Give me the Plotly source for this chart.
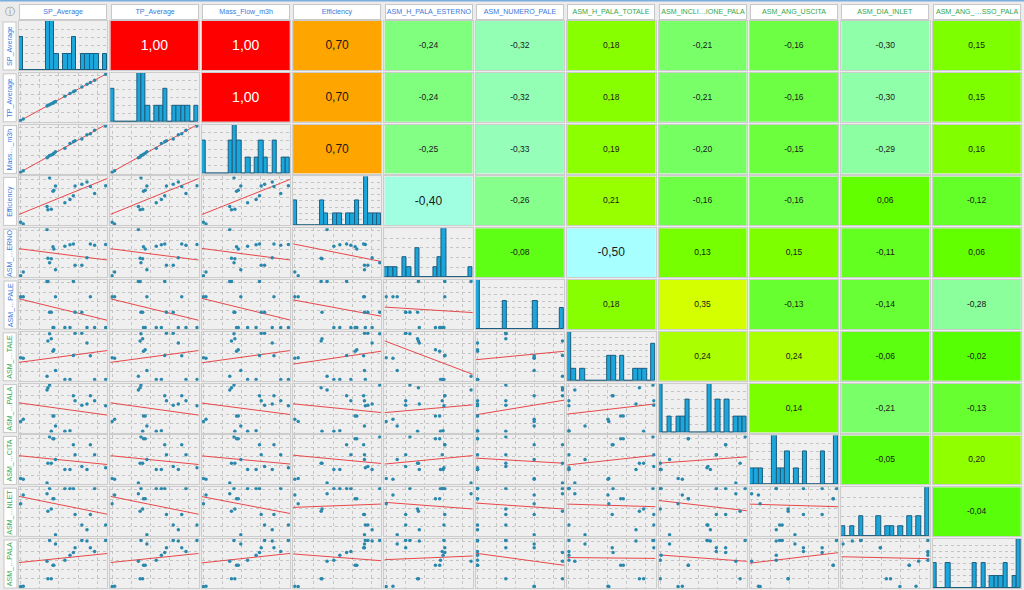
import numpy as np
import plotly.graph_objects as go
from plotly.subplots import make_subplots

# variable names (header row / left column, as shown)
names = ["SP_Average", "TP_Average", "Mass_Flow_m3h", "Efficiency", "ASM_H_PALA_ESTERNO",
         "ASM_NUMERO_PALE", "ASM_H_PALA_TOTALE", "ASM_INCLI…IONE_PALA", "ASM_ANG_USCITA",
         "ASM_DIA_INLET", "ASM_ANG_…SSO_PALA"]
row_names = ["SP_Average", "TP_Average", "Mass…_m3h", "Efficiency", "ASM_…ERNO", "ASM_…PALE",
             "ASM_…TALE", "ASM_…PALA", "ASM_…CITA", "ASM_…NLET", "ASM_…PALA"]
n_outputs = 6  # first six drawn in blue, the rest in green

sp_average = [0.00, 0.03, 0.31, 0.32, 0.34, 0.36, 0.38, 0.39, 0.41, 0.52, 0.58, 0.62, 0.64, 0.72, 0.78, 0.82, 0.87, 1.00]
tp_average = [0.00, 0.03, 0.31, 0.33, 0.34, 0.36, 0.37, 0.39, 0.41, 0.52, 0.58, 0.62, 0.64, 0.72, 0.78, 0.82, 0.87, 1.00]
mass_flow = [0.00, 0.03, 0.31, 0.33, 0.36, 0.37, 0.39, 0.41, 0.44, 0.52, 0.62, 0.66, 0.68, 0.72, 0.81, 0.83, 0.91, 1.00]
efficiency = [0.04, 0.00, 0.38, 0.31, 1.00, 0.32, 0.71, 0.73, 0.82, 0.46, 0.53, 0.61, 0.82, 0.86, 0.91, 0.81, 0.66, 0.83]
h_pala_esterno = [0.00, 0.08, 1.00, 0.38, 0.28, 0.37, 0.63, 0.58, 0.13, 0.64, 0.67, 0.69, 0.23, 0.23, 0.39, 0.69, 0.66, 0.68]
numero_pale = [7, 7, 8, 8, 6, 6, 5, 5, 7, 5, 5, 8, 6, 6, 5, 7, 5, 5]
h_pala_totale = [0.47, 0.46, 0.07, 0.83, 0.99, 0.88, 0.61, 0.64, 0.19, 0.00, 0.00, 0.52, 1.00, 1.00, 0.79, 0.51, 0.00, 0.00]
inclinazione_pala = [0.21, 0.26, 0.89, 0.94, 1.00, 0.00, 0.33, 0.33, 0.11, 0.00, 0.01, 0.77, 0.66, 0.56, 0.59, 0.77, 0.66, 0.55]
ang_uscita = [0.10, 0.08, 0.00, 0.43, 1.00, 0.43, 0.96, 0.96, 0.51, 0.29, 0.29, 0.83, 0.61, 0.36, 0.29, 0.83, 0.61, 0.33]
dia_inlet = [0.67, 0.86, 0.89, 0.51, 1.00, 0.56, 0.78, 0.78, 0.00, 1.00, 1.00, 1.00, 0.44, 0.21, 0.11, 0.44, 1.00, 0.21]
ang_sso_pala = [0.00, 0.01, 0.55, 0.17, 1.00, 0.17, 0.46, 0.46, 0.92, 0.57, 0.68, 0.74, 0.84, 1.00, 0.99, 0.84, 0.76, 1.00]

# correlation values printed in the upper triangle (row by row)
corr_rows = [
    [1.00, 1.00, 0.70, -0.24, -0.32, 0.18, -0.21, -0.16, -0.30, 0.15],
    [1.00, 0.70, -0.24, -0.32, 0.18, -0.21, -0.16, -0.30, 0.15],
    [0.70, -0.25, -0.33, 0.19, -0.20, -0.15, -0.29, 0.16],
    [-0.40, -0.26, 0.21, -0.16, -0.16, 0.06, -0.12],
    [-0.08, -0.50, 0.13, 0.15, -0.11, 0.06],
    [0.18, 0.35, -0.13, -0.14, -0.28],
    [0.24, 0.24, -0.06, -0.02],
    [0.14, -0.21, -0.13],
    [-0.05, 0.20],
    [-0.04],
]

columns = [sp_average, tp_average, mass_flow, efficiency, h_pala_esterno, numero_pale,
           h_pala_totale, inclinazione_pala, ang_uscita, dia_inlet, ang_sso_pala]
n = len(columns)

corr_scale = [
    [0.00, "#a0c0ff"],
    [0.25, "#a8ffff"],
    [0.30, "#a0ffe0"],
    [0.35, "#90ffaa"],
    [0.40, "#76ff60"],
    [0.45, "#60ff1a"],
    [0.50, "#55ff00"],
    [0.55, "#6aff00"],
    [0.60, "#90ff00"],
    [0.62, "#aaff00"],
    [0.675, "#d4ff00"],
    [0.75, "#ffe000"],
    [0.85, "#ffa500"],
    [1.00, "#ff0000"],
]

blue = "#3d78dc"
green = "#2ea84e"
cell_bg = "#efefef"
grid_col = "#c4c4c4"
border_col = "#cdcdcd"
label_font = "Liberation Sans"

fig = make_subplots(rows=n, cols=n, horizontal_spacing=0.003, vertical_spacing=0.005)

for i in range(n):
    for j in range(n):
        r, c = i + 1, j + 1
        xv = np.array(columns[j], dtype=float)
        yv = np.array(columns[i], dtype=float)
        common = dict(showticklabels=False, ticks="", zeroline=False, showline=True,
                      mirror=True, linecolor=border_col, linewidth=1)
        if i == j:
            counts, edges = np.histogram(xv, bins=20)
            centers = (edges[:-1] + edges[1:]) / 2
            fig.add_trace(go.Bar(x=centers, y=counts, width=edges[1] - edges[0],
                                 marker=dict(color="#1ba6dc", line=dict(color="#1b5d7d", width=1)),
                                 hoverinfo="skip"), row=r, col=c)
            top = counts.max()
            fig.update_xaxes(range=[edges[0], edges[-1]], showgrid=False, **common, row=r, col=c)
            fig.update_yaxes(range=[0, top], showgrid=True, gridcolor=grid_col, griddash="dot",
                             tick0=0, dtick=0.5 if top <= 4 else 1, **common, row=r, col=c)
        elif i > j:
            xspan = xv.max() - xv.min()
            yspan = yv.max() - yv.min()
            xlo, xhi = xv.min() - 0.02 * xspan, xv.max() + 0.02 * xspan
            ylo, yhi = yv.min() - 0.03 * yspan, yv.max() + 0.03 * yspan
            # trend line: slope from the printed correlation, through the means
            rho = corr_rows[j][i - j - 1]
            slope = rho * yv.std() / xv.std()
            icpt = yv.mean() - slope * xv.mean()
            fig.add_trace(go.Scatter(x=[xlo, xhi], y=[slope * xlo + icpt, slope * xhi + icpt],
                                     mode="lines", line=dict(color="#e8474a", width=1),
                                     hoverinfo="skip"), row=r, col=c)
            fig.add_trace(go.Scatter(x=xv, y=yv, mode="markers",
                                     marker=dict(color="#2a88ad", size=3.5)), row=r, col=c)
            fig.update_xaxes(range=[xlo, xhi], showgrid=True, gridcolor=grid_col, griddash="dot",
                             tick0=xv.min(), dtick=0.225 * xspan, **common, row=r, col=c)
            fig.update_yaxes(range=[ylo, yhi], showgrid=True, gridcolor=grid_col, griddash="dot",
                             tick0=yv.min() + 0.17 * yspan, dtick=0.2 * yspan, **common, row=r, col=c)
        else:
            val = corr_rows[i][j - i - 1]
            label = f"{val:.2f}".replace(".", ",")
            if abs(val) >= 0.95:
                size, tcol = 14, "white"
            elif abs(val) >= 0.38:
                size, tcol = 12, "#1a1a1a"
            else:
                size, tcol = 8.5, "#1a1a1a"
            fig.add_trace(go.Heatmap(z=[[val]], text=[[label]], texttemplate="%{text}",
                                     textfont=dict(size=size, color=tcol, family=label_font),
                                     coloraxis="coloraxis", hoverinfo="skip", xgap=0, ygap=0),
                          row=r, col=c)
            fig.update_xaxes(showgrid=False, **common, row=r, col=c)
            fig.update_yaxes(showgrid=False, **common, row=r, col=c)

W, H = 1024, 590
ml, mr, mt, mb = 19, 3, 21, 2
pw, ph = W - ml - mr, H - mt - mb

annotations = []
for k in range(n):
    sub = fig.get_subplot(1, k + 1)
    dx = sub.xaxis.domain
    colr = blue if k < n_outputs else green
    annotations.append(dict(
        text=names[k], xref="paper", yref="paper", x=(dx[0] + dx[1]) / 2, y=1,
        xanchor="center", yanchor="bottom", yshift=1, showarrow=False,
        width=(dx[1] - dx[0]) * pw - 2, height=14, bgcolor="white",
        bordercolor="#c8c8c8", borderwidth=1, borderpad=0,
        font=dict(size=7.1, color=colr, family=label_font)))
    sub = fig.get_subplot(k + 1, 1)
    dy = sub.yaxis.domain
    annotations.append(dict(
        text=row_names[k], xref="paper", yref="paper", x=0, y=(dy[0] + dy[1]) / 2,
        xanchor="right", yanchor="middle", xshift=-2, showarrow=False, textangle=-90,
        width=(dy[1] - dy[0]) * ph - 2, height=12, bgcolor="white",
        bordercolor="#c8c8c8", borderwidth=1, borderpad=0,
        font=dict(size=7.1, color=colr, family=label_font)))
annotations.append(dict(text="ⓘ", xref="paper", yref="paper", x=0, y=1, xshift=-9, yshift=10,
                        xanchor="center", yanchor="middle", showarrow=False,
                        font=dict(size=10, color="#8a8a8a", family="DejaVu Sans")))

top_y = 1 + (mt - 0.5) / ph
fig.update_layout(
    width=W, height=H,
    margin=dict(l=ml, r=mr, t=mt, b=mb),
    paper_bgcolor="#ececec", plot_bgcolor=cell_bg,
    showlegend=False, bargap=0,
    coloraxis=dict(colorscale=corr_scale, cmin=-1, cmax=1, showscale=False),
    annotations=annotations,
    shapes=[dict(type="line", xref="paper", yref="paper", x0=-0.02, x1=1.01, y0=top_y, y1=top_y,
                 line=dict(color="#7aaee0", width=2))],
)

# the page body has a default 8px margin; drop it so the figure fills the window
fig.write_html("out.html", config={"displayModeBar": False},
               post_script="document.body.style.margin='0';")
